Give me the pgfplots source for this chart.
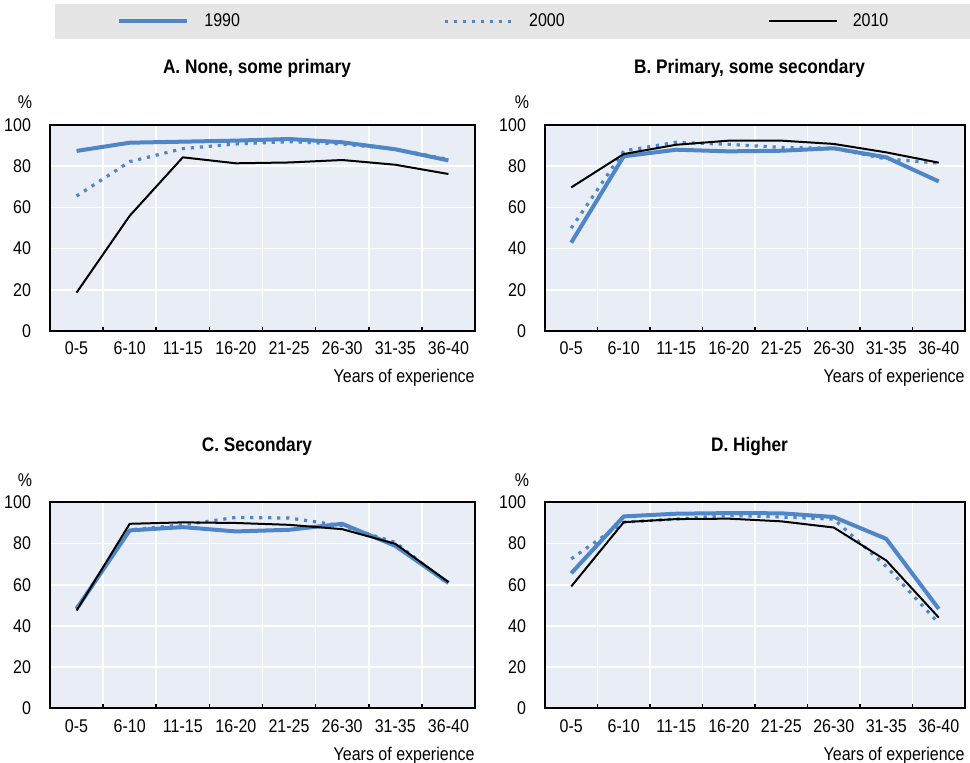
\documentclass[border=0pt]{standalone}
\usepackage{pgfplots}
\pgfplotsset{compat=1.18}
\usepackage{fontspec}
\setmainfont{Liberation Sans}[FakeStretch=0.87]
\newfontfamily\titlefam{Liberation Sans}[FakeStretch=0.88]
\definecolor{oblue}{RGB}{78,134,200}
\definecolor{bgblue}{RGB}{233,237,246}
\definecolor{bandgray}{RGB}{229,229,229}
\newcommand\tickfont{\fontsize{9.2}{11}\selectfont}
\newcommand\titlefont{\titlefam\fontsize{9.8}{12}\selectfont\bfseries}
\pgfplotsset{
 panel/.style={
  scale only axis, height=103pt, clip=false,
  xmin=-0.5,xmax=7.5,ymin=0,ymax=100,
  xtick={0,...,7},
  xticklabels={0-5,6-10,11-15,16-20,21-25,26-30,31-35,36-40},
  minor xtick={0.5,1.5,...,6.5},
  ytick={0,20,...,100},
  /pgf/number format/assume math mode=true,
  axis background/.style={fill=bgblue},
  ymajorgrids, xminorgrids,
  major grid style={white,line width=0.8pt},
  minor grid style={white,line width=0.8pt},
  major tick length=0pt, minor tick length=2.2pt,
  xtick pos=bottom, ytick pos=left, tick align=inside,
  minor tick style={black,line width=0.8pt},
  axis line style={black,line width=0.9pt},
  tick label style={font=\tickfont},
  yticklabel style={xshift=-6pt},
  xticklabel style={yshift=-2pt},
  xlabel={Years of experience},
  xlabel style={at={(axis description cs:1,-0.251)},anchor=base east,inner sep=0pt,font=\tickfont},
  title style={at={(axis description cs:0.487,1.248)},anchor=base,yshift=-6pt,inner sep=0pt,font=\titlefont},
  every axis plot/.append style={line join=round},
 },
 s1990/.style={oblue,line width=2pt,mark=none},
 s2000/.style={oblue,line width=1.6pt,dash pattern=on 1.6pt off 2.9pt,mark=none},
 s2010/.style={black,line width=1pt,mark=none},
}
\begin{document}
\begin{tikzpicture}
\path[use as bounding box] (0pt,0pt) rectangle (485pt,381.5pt);
\fill[bandgray] (27.5pt,362pt) rectangle (485pt,379.5pt);

% Panel A
\begin{axis}[panel, width=212.5pt, at={(25pt,216pt)}, anchor=south west,
  title={A. None, some primary},
  legend style={at={(axis description cs:0.1576,1.5024)}, anchor=west, draw=none, fill=none,
    inner sep=0pt, legend columns=3, font=\tickfont, nodes={inner sep=0pt},
    /tikz/every odd column/.append style={column sep=7.5pt},
    /tikz/every even column/.append style={column sep=101.5pt}},
  legend image code/.code={\draw[#1] (0pt,0pt) -- (34pt,0pt);}]
\addplot[s1990] coordinates {(0,87.4) (1,91.4) (2,91.9) (3,92.4) (4,93.2) (5,91.6) (6,88.2) (7,82.8)};
\addplot[s2000] coordinates {(0,65.5) (1,82.2) (2,88.5) (3,90.8) (4,91.9) (5,90.8) (6,88.3) (7,83.3)};
\addplot[s2010] coordinates {(0,18.6) (1,55.9) (2,84.3) (3,81.4) (4,81.8) (5,83.0) (6,80.7) (7,76.2)};
\legend{1990,2000,2010}
\node[font=\tickfont] at (axis description cs:-0.059,1.112) {\%};
\end{axis}

% Panel B
\begin{axis}[panel, width=210pt, at={(272.5pt,216pt)}, anchor=south west,
  title={B. Primary, some secondary}]
\addplot[s1990] coordinates {(0,42.9) (1,84.8) (2,88.0) (3,87.2) (4,87.5) (5,88.7) (6,84.3) (7,72.6)};
\addplot[s2000] coordinates {(0,49.9) (1,87.4) (2,91.6) (3,90.6) (4,89.1) (5,88.7) (6,83.5) (7,81.5)};
\addplot[s2010] coordinates {(0,69.7) (1,85.9) (2,90.4) (3,92.4) (4,92.4) (5,90.8) (6,86.7) (7,81.7)};
\node[font=\tickfont] at (axis description cs:-0.055,1.112) {\%};
\end{axis}

% Panel C
\begin{axis}[panel, width=212.5pt, at={(25pt,27.3pt)}, anchor=south west,
  title={C. Secondary}]
\addplot[s1990] coordinates {(0,48.3) (1,86.4) (2,88.0) (3,85.9) (4,86.7) (5,89.6) (6,78.9) (7,60.9)};
\addplot[s2000] coordinates {(0,48.6) (1,86.7) (2,89.1) (3,92.7) (4,92.4) (5,88.7) (6,80.6) (7,60.3)};
\addplot[s2010] coordinates {(0,47.5) (1,89.6) (2,90.3) (3,90.0) (4,89.1) (5,87.0) (6,79.9) (7,61.3)};
\node[font=\tickfont] at (axis description cs:-0.059,1.107) {\%};
\end{axis}

% Panel D
\begin{axis}[panel, width=210pt, at={(272.5pt,27.3pt)}, anchor=south west,
  title={D. Higher}]
\addplot[s1990] coordinates {(0,65.6) (1,93.2) (2,94.5) (3,94.8) (4,94.7) (5,92.9) (6,82.3) (7,48.3)};
\addplot[s2000] coordinates {(0,72.6) (1,90.4) (2,91.9) (3,93.7) (4,92.9) (5,91.9) (6,68.9) (7,41.3)};
\addplot[s2010] coordinates {(0,59.2) (1,90.4) (2,91.9) (3,92.1) (4,90.8) (5,87.8) (6,71.8) (7,44.1)};
\node[font=\tickfont] at (axis description cs:-0.055,1.107) {\%};
\end{axis}
\end{tikzpicture}
\end{document}
